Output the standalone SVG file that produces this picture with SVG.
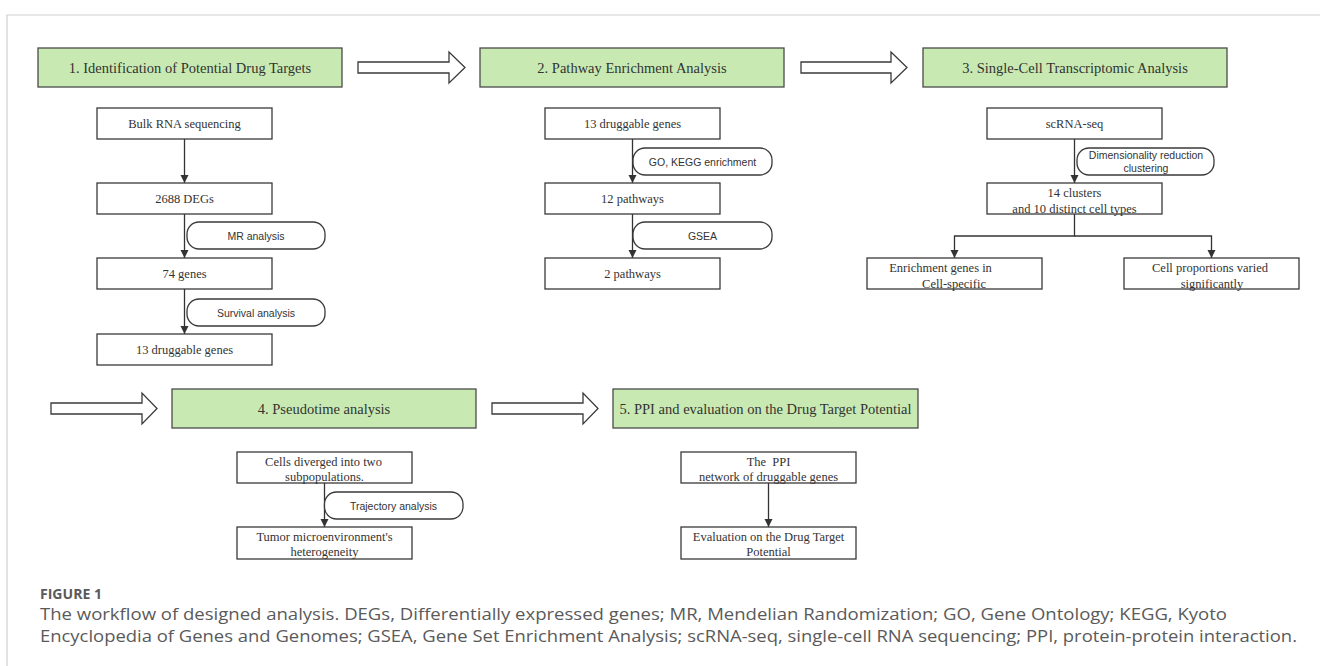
<svg xmlns="http://www.w3.org/2000/svg" width="1320" height="666" viewBox="0 0 1320 666">
<defs>
<style>
.hdr{fill:#c8eab2;stroke:#4a4a4a;stroke-width:1.3}
.box{fill:#fff;stroke:#3a3a3a;stroke-width:1.3}
.pill{fill:#fff;stroke:#3a3a3a;stroke-width:1.3}
.big{fill:#fff;stroke:#3a3a3a;stroke-width:1.3;stroke-linejoin:miter}
.ht{font-family:"Liberation Serif",serif;font-size:14.5px;fill:#333;text-anchor:middle}
.nt{font-family:"Liberation Serif",serif;font-size:12.5px;fill:#333;text-anchor:middle}
.pt{font-family:"Liberation Sans",sans-serif;font-size:10.5px;fill:#333;text-anchor:middle}
.ln{fill:none;stroke:#333;stroke-width:1.3}
.cap{font-family:"Open Sans",sans-serif;fill:#5a5a5a}
</style>
<marker id="ah" viewBox="0 0 10 10" refX="10" refY="5" markerWidth="8" markerHeight="10" markerUnits="userSpaceOnUse" orient="auto">
<path d="M0,0 L10,5 L0,10 Z" fill="#333"/>
</marker>
</defs>
<rect width="1320" height="666" fill="#fff"/>
<path d="M7,666 V15 H1320" fill="none" stroke="#cfcfcf" stroke-width="1.2"/>

<g id="big-arrows">
<path class="big" d="M358,62 H449 V52 L465,67.5 L449,83 V73 H358 Z"/>
<path class="big" d="M801,62 H891 V52 L907,67.5 L891,83 V73 H801 Z"/>
<path class="big" d="M51,403 H142 V393 L157,408.5 L142,424 V414 H51 Z"/>
<path class="big" d="M492,403 H583 V393 L598,408.5 L583,424 V414 H492 Z"/>
</g>

<g id="connectors">
<path class="ln" d="M184.5,139 V183" marker-end="url(#ah)"/>
<path class="ln" d="M184.5,214 V258" marker-end="url(#ah)"/>
<path class="ln" d="M184.5,289 V334" marker-end="url(#ah)"/>
<path class="ln" d="M632.5,139 V183" marker-end="url(#ah)"/>
<path class="ln" d="M632.5,214 V258" marker-end="url(#ah)"/>
<path class="ln" d="M1074.5,139 V183" marker-end="url(#ah)"/>
<path class="ln" d="M1074.5,214 V236 H954.5 V258" marker-end="url(#ah)"/>
<path class="ln" d="M1074.5,236 H1211.5 V258" marker-end="url(#ah)"/>
<path class="ln" d="M324.5,483 V527" marker-end="url(#ah)"/>
<path class="ln" d="M768.5,483 V527" marker-end="url(#ah)"/>
</g>

<g id="h1"><rect class="hdr" x="38" y="48" width="304" height="39"/><text class="ht" x="190" y="72.5">1. Identification of Potential Drug Targets</text></g>
<g id="h2"><rect class="hdr" x="480" y="48" width="304" height="39"/><text class="ht" x="632" y="72.5">2. Pathway Enrichment Analysis</text></g>
<g id="h3"><rect class="hdr" x="923" y="48" width="304" height="39"/><text class="ht" x="1075" y="72.5">3. Single-Cell Transcriptomic Analysis</text></g>
<g id="h4"><rect class="hdr" x="172" y="389" width="304" height="39"/><text class="ht" x="324" y="413.5">4. Pseudotime analysis</text></g>
<g id="h5"><rect class="hdr" x="613" y="389" width="305" height="39"/><text class="ht" x="765.5" y="413.5">5. PPI and evaluation on the Drug Target Potential</text></g>

<g id="n-bulk"><rect class="box" x="97" y="108" width="175" height="31"/><text class="nt" x="184.5" y="128">Bulk RNA sequencing</text></g>
<g id="n-degs"><rect class="box" x="97" y="183" width="175" height="31"/><text class="nt" x="184.5" y="203">2688 DEGs</text></g>
<g id="p-mr"><rect class="pill" x="187" y="222" width="138" height="27" rx="12"/><text class="pt" x="256" y="239.5">MR analysis</text></g>
<g id="n-74"><rect class="box" x="97" y="258" width="175" height="31"/><text class="nt" x="184.5" y="278">74 genes</text></g>
<g id="p-surv"><rect class="pill" x="187" y="299" width="138" height="27" rx="12"/><text class="pt" x="256" y="316.5">Survival analysis</text></g>
<g id="n-13a"><rect class="box" x="97" y="334" width="175" height="31"/><text class="nt" x="184.5" y="354">13 druggable genes</text></g>

<g id="n-13b"><rect class="box" x="545" y="108" width="175" height="31"/><text class="nt" x="632.5" y="128">13 druggable genes</text></g>
<g id="p-go"><rect class="pill" x="633" y="148" width="139" height="27" rx="12"/><text class="pt" x="702.5" y="165.5">GO, KEGG enrichment</text></g>
<g id="n-12"><rect class="box" x="545" y="183" width="175" height="31"/><text class="nt" x="632.5" y="203">12 pathways</text></g>
<g id="p-gsea"><rect class="pill" x="633" y="222" width="139" height="27" rx="12"/><text class="pt" x="702.5" y="239.5">GSEA</text></g>
<g id="n-2"><rect class="box" x="545" y="258" width="175" height="31"/><text class="nt" x="632.5" y="278">2 pathways</text></g>

<g id="n-sc"><rect class="box" x="987" y="108" width="175" height="31"/><text class="nt" x="1074.5" y="128">scRNA-seq</text></g>
<g id="p-dim"><rect class="pill" x="1077" y="148" width="137" height="27" rx="12"/><text class="pt" x="1146" y="159">Dimensionality reduction</text><text class="pt" x="1146" y="172">clustering</text></g>
<g id="n-14"><rect class="box" x="987" y="183" width="175" height="31"/><text class="nt" x="1074.5" y="197">14 clusters</text><text class="nt" x="1074.5" y="212.5">and 10 distinct cell types</text></g>
<g id="n-enr"><rect class="box" x="867" y="258" width="175" height="31"/><text class="nt" x="940.5" y="271.5">Enrichment genes in</text><text class="nt" x="954" y="287.5">Cell-specific</text></g>
<g id="n-prop"><rect class="box" x="1124" y="258" width="175" height="31"/><text class="nt" x="1210" y="271.5">Cell proportions varied</text><text class="nt" x="1212" y="287.5">significantly</text></g>

<g id="n-cells"><rect class="box" x="237" y="452" width="175" height="31"/><text class="nt" x="323.5" y="465.5">Cells diverged into two</text><text class="nt" x="324.5" y="481">subpopulations.</text></g>
<g id="p-traj"><rect class="pill" x="324.5" y="492" width="138.5" height="27" rx="12"/><text class="pt" x="393.5" y="509.5">Trajectory analysis</text></g>
<g id="n-tumor"><rect class="box" x="237" y="527" width="175" height="32"/><text class="nt" x="324.5" y="540.5">Tumor microenvironment's</text><text class="nt" x="324.5" y="556">heterogeneity</text></g>

<g id="n-ppi"><rect class="box" x="681" y="452" width="175" height="31"/><text class="nt" x="768.5" y="465.5" xml:space="preserve">The  PPI</text><text class="nt" x="768.5" y="481">network of druggable genes</text></g>
<g id="n-eval"><rect class="box" x="681" y="527" width="175" height="32"/><text class="nt" x="768.5" y="540.5">Evaluation on the Drug Target</text><text class="nt" x="768.5" y="556">Potential</text></g>

<g id="caption">
<text class="cap" x="40" y="599" font-size="14" font-weight="bold" textLength="62" lengthAdjust="spacingAndGlyphs">FIGURE 1</text>
<text class="cap" x="40" y="620" font-size="16" textLength="1187" lengthAdjust="spacingAndGlyphs">The workflow of designed analysis. DEGs, Differentially expressed genes; MR, Mendelian Randomization; GO, Gene Ontology; KEGG, Kyoto</text>
<text class="cap" x="40" y="642" font-size="16" textLength="1257" lengthAdjust="spacingAndGlyphs">Encyclopedia of Genes and Genomes; GSEA, Gene Set Enrichment Analysis; scRNA-seq, single-cell RNA sequencing; PPI, protein-protein interaction.</text>
</g>
</svg>
